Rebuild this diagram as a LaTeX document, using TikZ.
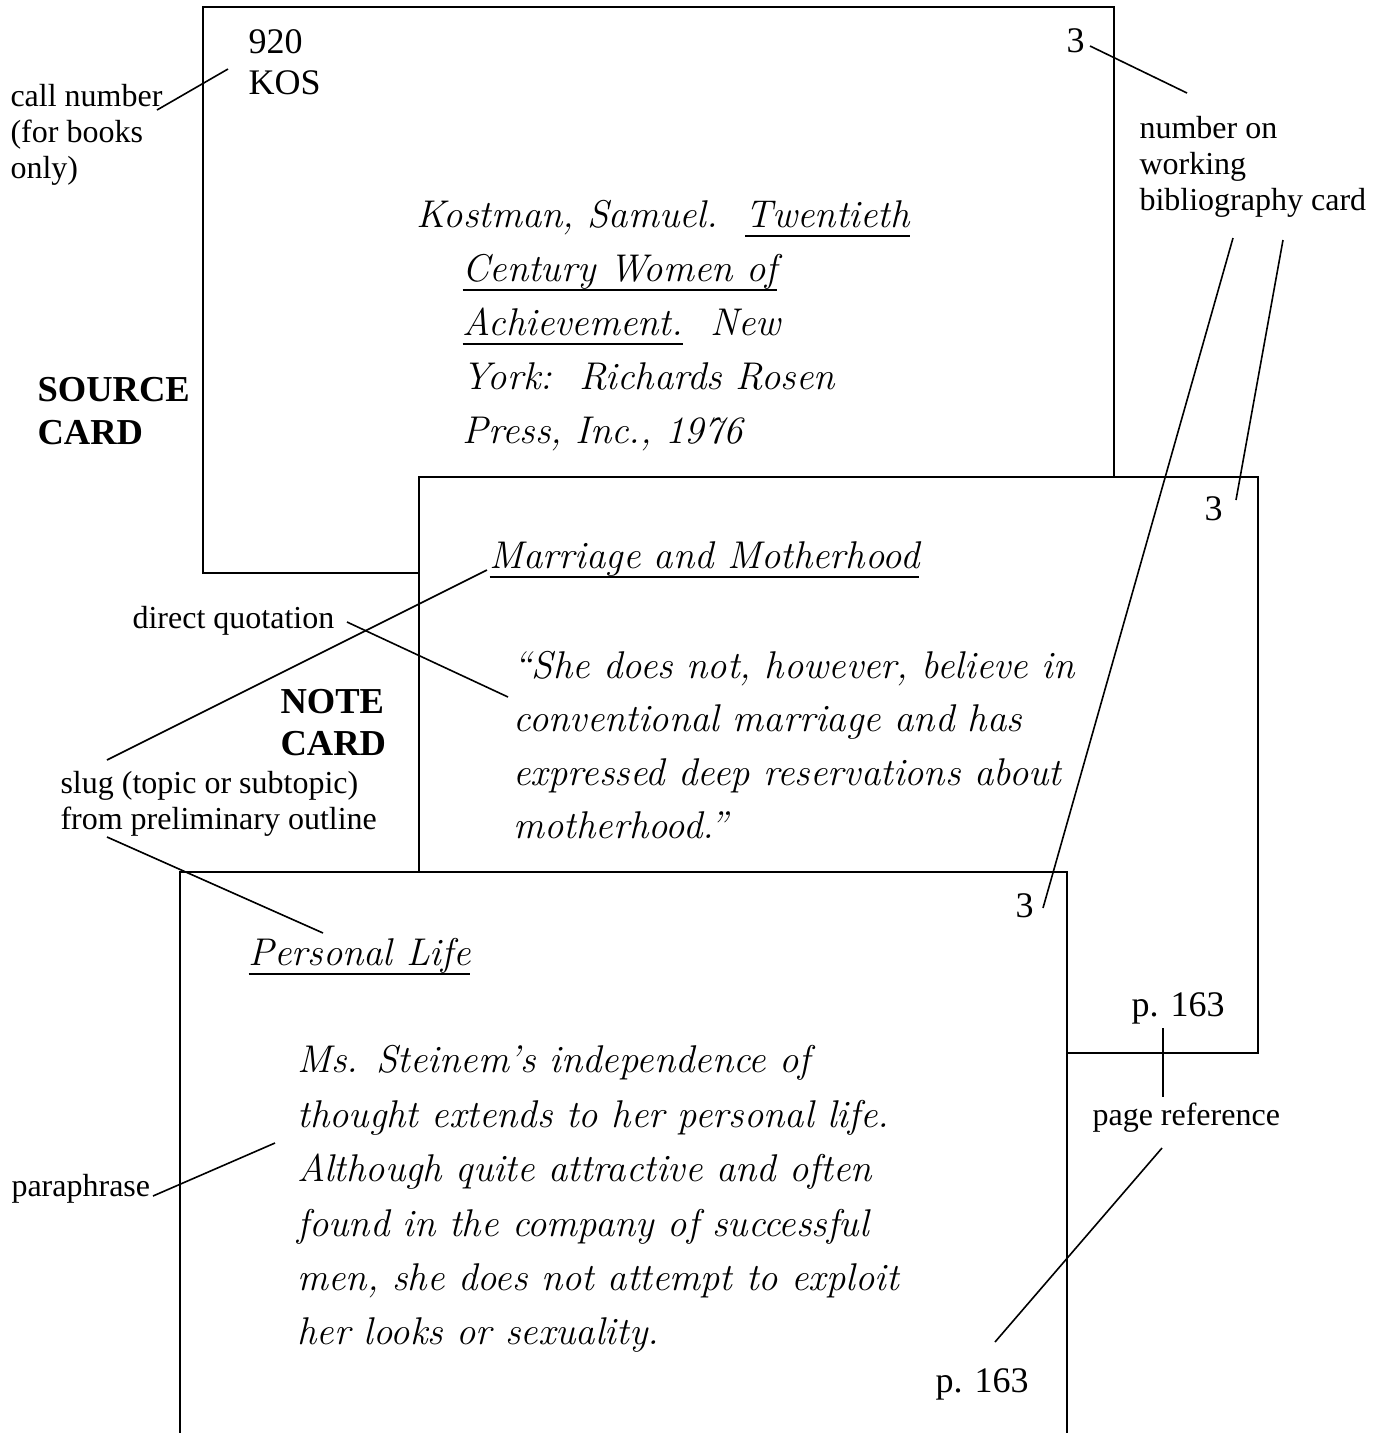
\documentclass[tikz,border=0pt]{standalone}
\usepackage{fontspec}
\newfontfamily\tnr{Liberation Serif}
\newcommand{\cardul}[1]{\setbox0=\hbox{#1}\rlap{\rule[-3.6pt]{\wd0}{0.75pt}}\box0}
\begin{document}
\begin{tikzpicture}[x=0.375pt,y=-0.375pt,
  card/.style={line width=0.8pt},
  conn/.style={line width=0.6pt},
  lbl/.style={anchor=base west,inner sep=0pt,font=\tnr\fontsize{12}{14}\selectfont},
  boldlbl/.style={anchor=base west,inner sep=0pt,font=\tnr\bfseries\fontsize{13.7}{16}\selectfont},
  num/.style={anchor=base west,inner sep=0pt,font=\tnr\fontsize{13.5}{16}\selectfont},
  txt/.style={anchor=base west,inner sep=0pt,font=\itshape\fontsize{14.5}{20}\selectfont}]
\useasboundingbox (0,0) rectangle (1384,1433);
\clip (0,0) rectangle (1384,1433);
% cards
\draw[card] (203,7) rectangle (1114,573);
\filldraw[card,fill=white] (419,477) rectangle (1258,1053);
\fill[white] (180,872) rectangle (1067,1445);
\draw[card] (180,1445) -- (180,872) -- (1067,872) -- (1067,1445);
% source card text
\node[num] (n920) at (248,53) {920};
\node[num] (nkos) at (248,94) {KOS};
\node[num] (src3) at (1066,52) {3};
\node[txt] (s1) at (416,227) {Kostman, Samuel.\ \ \cardul{Twentieth}};
\node[txt] (s2) at (462,281) {\cardul{Century Women of}};
\node[txt] (s3) at (462,335) {\cardul{Achievement.}\ \ New};
\node[txt] (s4) at (462,389) {York:\ \ Richards Rosen};
\node[txt] (s5) at (462,443) {Press, Inc., 1976};
% note card text
\node[num] (note3) at (1204,520) {3};
\node[txt] (q0) at (489,568) {\cardul{Marriage and Motherhood}};
\node[txt] (q1) at (513,678) {``She does not, however, believe in};
\node[txt] (q2) at (513,731) {conventional marriage and has};
\node[txt] (q3) at (513,785) {expressed deep reservations about};
\node[txt] (q4) at (513,838) {motherhood.''};
\node[num] (notep) at (1131,1016) {p. 163};
% bottom card text
\node[num] (bot3) at (1015,917) {3};
\node[txt] (p0) at (248,965) {\cardul{Personal Life}};
\node[txt] (p1) at (297,1072) {Ms. Steinem's independence of};
\node[txt] (p2) at (297,1127) {thought extends to her personal life.};
\node[txt] (p3) at (297,1181) {Although quite attractive and often};
\node[txt] (p4) at (297,1236) {found in the company of successful};
\node[txt] (p5) at (297,1290) {men, she does not attempt to exploit};
\node[txt] (p6) at (297,1344) {her looks or sexuality.};
\node[num] (botp) at (935,1392) {p. 163};
% labels
\node[lbl] (cn1) at (10,106) {call number};
\node[lbl] (cn2) at (10,142) {(for books};
\node[lbl] (cn3) at (10,178) {only)};
\node[lbl] (wb1) at (1139,138) {number on};
\node[lbl] (wb2) at (1139,174) {working};
\node[lbl] (wb3) at (1139,210) {bibliography card};
\node[boldlbl] (sc1) at (37,401) {SOURCE};
\node[boldlbl] (sc2) at (37,444) {CARD};
\node[lbl] (dq) at (132,628) {direct quotation};
\node[boldlbl] (nc1) at (280,713) {NOTE};
\node[boldlbl] (nc2) at (280,755) {CARD};
\node[lbl] (sl1) at (60,793) {slug (topic or subtopic)};
\node[lbl] (sl2) at (60,829) {from preliminary outline};
\node[lbl] (para) at (11,1196) {paraphrase};
\node[lbl] (pref) at (1092,1125) {page reference};
% connector end points
\coordinate (cnA) at (157,110);  \coordinate (cnB) at (228,69);
\coordinate (wbA) at (1090,46);  \coordinate (wbB) at (1187,93);
\coordinate (bbA) at (1233,238); \coordinate (bbB) at (1043,908);
\coordinate (bcA) at (1283,240); \coordinate (bcB) at (1236,500);
\coordinate (smA) at (107,760);  \coordinate (smB) at (487,570);
\coordinate (dqA) at (347,622);  \coordinate (dqB) at (508,697);
\coordinate (spA) at (107,837);  \coordinate (spB) at (323,933);
\coordinate (paA) at (153,1196); \coordinate (paB) at (275,1143);
\coordinate (prA) at (1163,1028); \coordinate (prB) at (1163,1097);
\coordinate (pbA) at (1162,1148); \coordinate (pbB) at (995,1342);
% connectors
\draw[conn] (cnA) -- (cnB);
\draw[conn] (wbA) -- (wbB);
\draw[conn] (bbA) -- (bbB);
\draw[conn] (bcA) -- (bcB);
\draw[conn] (smA) -- (smB);
\draw[conn] (dqA) -- (dqB);
\draw[conn] (spA) -- (spB);
\draw[conn] (paA) -- (paB);
\draw[conn] (prA) -- (prB);
\draw[conn] (pbA) -- (pbB);
\end{tikzpicture}
\end{document}
